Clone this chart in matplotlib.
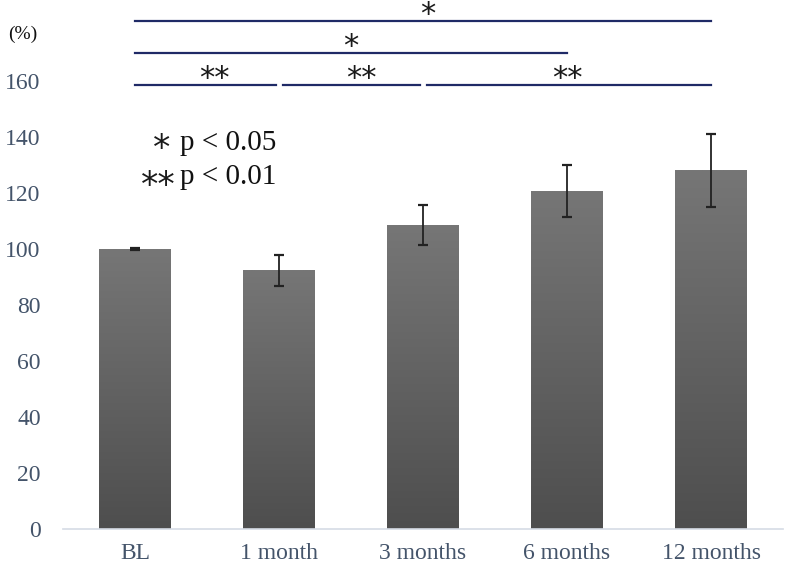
import numpy as np
import matplotlib
matplotlib.use("Agg")
import matplotlib.pyplot as plt
from matplotlib.colors import LinearSegmentedColormap

categories = ["BL", "1 month", "3 months", "6 months", "12 months"]
means = [100.0, 92.3, 108.5, 120.7, 128.0]
errors = [0.3, 5.5, 7.1, 9.4, 13.0]
yticks = [0, 20, 40, 60, 80, 100, 120, 140, 160]

# significance lines: (x_start, x_end, y)
sig_lines = [
    (0.0, 0.98, 158.6),
    (1.03, 1.98, 158.6),
    (2.03, 4.0, 158.6),
    (0.0, 3.0, 170.0),
    (0.0, 4.0, 181.4),
]
# significance labels: (label, x, y)
sig_labels = [
    ("**", 0.55, 158.6),
    ("**", 1.57, 158.6),
    ("**", 3.0, 158.6),
    ("*", 1.5, 170.0),
    ("*", 2.03, 181.4),
]
legend_stars = ["*", "**"]
legend_texts = ["p < 0.05", "p < 0.01"]

W, H = 787, 572
fig = plt.figure(figsize=(W / 100, H / 100), dpi=100)
ax = fig.add_axes([63 / W, (H - 529) / H, (783 - 63) / W, 529 / H])

serif = ["Liberation Serif", "DejaVu Serif"]
star_font = ["DejaVu Sans"]
tick_color = "#44546A"
navy = "#1F2A66"

x = np.arange(len(categories))
bars = ax.bar(x, means, width=0.5, color="none", edgecolor="none", zorder=2)
cmap = LinearSegmentedColormap.from_list("g", ["#4E4E4E", "#767676"])
grad = np.linspace(0, 1, 256).reshape(-1, 1)
for b in bars:
    x0, w, h = b.get_x(), b.get_width(), b.get_height()
    ax.imshow(grad, cmap=cmap, origin="lower", aspect="auto",
              extent=(x0, x0 + w, 0, h), zorder=2)

ax.errorbar(x, means, yerr=errors, fmt="none", ecolor="#222222",
            elinewidth=1.3, capsize=3.5, capthick=1.6, zorder=3)

ax.set_xlim(-0.5, 4.5)
ax.set_ylim(0, 529 / 2.8)

ax.set_yticks(yticks)
ax.set_yticklabels([str(v) for v in yticks], fontfamily=serif, fontsize=17,
                   color=tick_color)
ax.set_xticks(x)
ax.set_xticklabels(categories, fontfamily=serif, fontsize=17, color=tick_color)
ax.tick_params(axis="y", length=0, pad=16)
ax.tick_params(axis="x", length=0, pad=10)

for s in ["top", "right", "left"]:
    ax.spines[s].set_visible(False)
ax.spines["bottom"].set_color("#D5DBE5")
ax.spines["bottom"].set_linewidth(1.2)

for x0, x1, y in sig_lines:
    ax.plot([x0, x1], [y, y], color=navy, lw=1.6, clip_on=False, zorder=4)
for lab, lx, ly in sig_labels:
    ax.text(lx, ly - 0.8, lab, ha="center", va="baseline", fontsize=22,
            fontfamily=star_font, color="#1a1a1a", clip_on=False)

# legend (significance key)
ax.text(0.245, 132.1, legend_stars[0], ha="right", va="baseline",
        fontsize=25, fontfamily=star_font, color="#1a1a1a")
ax.text(0.31, 135.4, legend_texts[0], ha="left", va="baseline",
        fontsize=21, fontfamily=serif, color="#111111")
ax.text(0.28, 118.9, legend_stars[1], ha="right", va="baseline",
        fontsize=25, fontfamily=star_font, color="#1a1a1a")
ax.text(0.31, 123.2, legend_texts[1], ha="left", va="baseline",
        fontsize=21, fontfamily=serif, color="#111111")

fig.text(23 / W, 1 - 34 / H, "(%)", ha="center", va="center", fontsize=14,
         fontfamily=serif, color="#111111")

fig.savefig("out.png", dpi=100)
